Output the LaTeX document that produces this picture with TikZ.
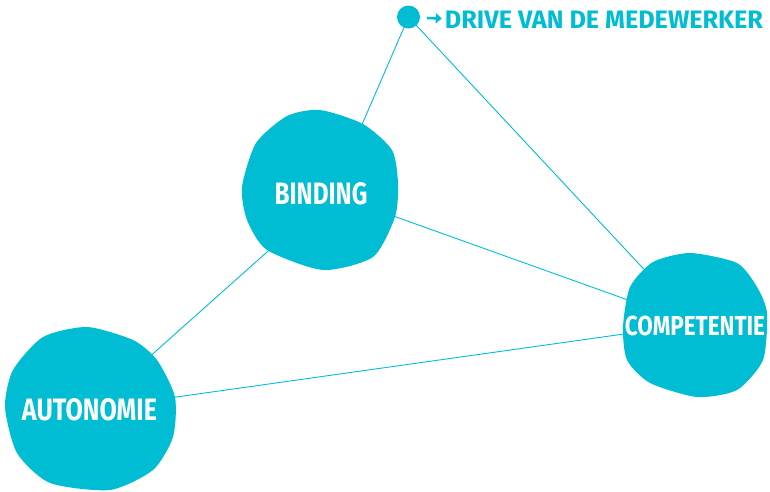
\documentclass[tikz,border=0pt]{standalone}
\usepackage{graphicx}
\usepackage{fontspec}
\setmainfont{Fira Sans}
\usetikzlibrary{arrows.meta,calc}
\pgfdeclarelayer{lines}
\pgfdeclarelayer{blobs}
\pgfsetlayers{lines,blobs,main}
\definecolor{cy}{RGB}{0,189,212}
\tikzset{
  lbl/.style={inner sep=0pt, text=white},
  link/.style={draw=cy, line width=0.9pt},
  blob/.style={fill=cy},
  pointer/.style={draw=cy, line width=2.6pt, -{Triangle[length=6pt,width=10pt]}},
}
\newcommand{\fitbox}[3]{\resizebox{#1pt}{#2pt}{\bfseries #3}}
\begin{document}
\begin{tikzpicture}[x=1pt,y=-1pt]
\useasboundingbox (0,0) rectangle (770,491);
% text nodes
\node[lbl] (binding) at (321,194) {\fitbox{93}{22}{BINDING}};
\node[lbl] (competentie) at (695,326) {\fitbox{140}{19.5}{COMPETENTIE}};
\node[lbl] (autonomie) at (89.5,410) {\fitbox{135}{22}{AUTONOMIE}};
\node[lbl, text=cy] (drive) at (604,19.5) {\fitbox{318}{17.5}{DRIVE VAN DE MEDEWERKER}};
\node[circle, fill=cy, minimum size=23pt, inner sep=0pt] (dot) at (408.5,17) {};
% connector hubs
\coordinate (bhub) at (332,194);
\coordinate (chub) at (695,324);
\coordinate (ahub) at (91,409);
% blobs
\begin{pgfonlayer}{blobs}
\fill[blob] plot[smooth cycle, tension=0.42] coordinates {(320,110) (363,124) (392,150) (398,183) (395,217) (373,257) (323,270) (267,250) (247,220) (242,187) (256,143) (287,116)};
\fill[blob] plot[smooth cycle, tension=0.42] coordinates {(690,253) (737,263) (757,287) (767,313) (763,360) (737,390) (697,397) (650,383) (627,360) (623,327) (630,287) (653,262)};
\fill[blob] plot[smooth cycle, tension=0.42] coordinates {(87,327) (133,340) (157,360) (175,397) (173,437) (153,470) (110,490) (50,483) (17,453) (5,407) (13,370) (43,337)};
\end{pgfonlayer}
% connectors
\begin{pgfonlayer}{lines}
\draw[link] (dot.center) -- (bhub);
\draw[link] (dot.center) -- (chub);
\draw[link] (bhub) -- (chub);
\draw[link] (ahub) -- (bhub);
\draw[link] (ahub) -- (chub);
\end{pgfonlayer}
\draw[pointer] ($(dot.east)+(7,1)$) -- ($(drive.west)+(-3,-1)$);
\end{tikzpicture}
\end{document}
